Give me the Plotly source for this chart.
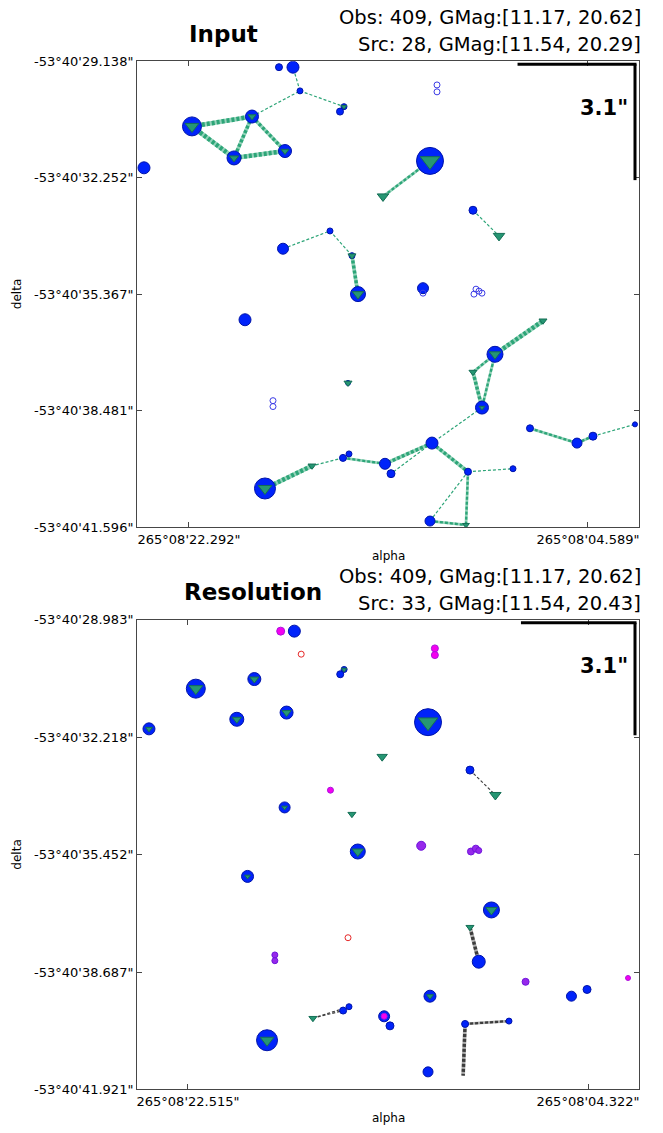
import plotly.graph_objects as go

# ---------------- data: sky positions (RA seconds of 265°08'xx", Dec seconds of -53°40'yy") -------------
node_names = ["S1", "S2", "S3", "S4", "S5", "O1", "O2", "S7", "S8", "S9", "S10", "S11", "S12",
              "T1", "S13", "T2", "S14", "S15", "S16", "S17", "S18", "O3", "O4", "O5", "O6", "O7",
              "S20", "S21", "O8", "O9", "S23", "T3", "T4", "S24", "S25", "S26", "S27", "S28", "S29",
              "T5", "S30", "S31", "S32", "S33", "T6", "S34", "S35", "S36", "S37"]
node_ra = [18.299, 17.678, 17.367, 15.415, 15.592, 11.288, 11.288, 22.159, 19.497, 20.295, 18.032,
           24.289, 11.599, 13.684, 9.691, 8.537, 16.036, 18.121, 15.060, 14.793, 11.909, 11.909,
           9.647, 9.425, 9.292, 9.558, 19.807, 15.237, 18.565, 18.565, 8.715, 6.585, 9.691, 9.292,
           11.510, 13.595, 13.329, 15.459, 15.193, 16.834, 18.920, 9.913, 7.916, 11.599, 10.002,
           7.162, 5.076, 4.367, 2.503]
node_dec = [29.296, 29.296, 29.930, 30.352, 30.484, 29.771, 29.956, 30.880, 30.616, 31.724, 31.539,
            31.988, 31.803, 32.753, 33.123, 33.809, 33.677, 34.152, 34.337, 35.366, 35.208, 35.340,
            35.366, 35.287, 35.340, 35.234, 36.052, 37.741, 38.216, 38.374, 36.976, 36.079, 37.451,
            38.401, 39.351, 39.905, 40.169, 39.747, 39.641, 39.958, 40.565, 40.116, 40.037, 41.436,
            41.541, 38.955, 39.351, 39.166, 38.850]

# observations (blue filled)
obs_names = ["S1", "S2", "S3", "S4", "S5", "S7", "S8", "S9", "S10", "S11", "S12", "S13", "S14",
             "S15", "S16", "S17", "S18", "S20", "S21", "S23", "S24", "S25", "S26", "S27", "S28",
             "S29", "S30", "S31", "S32", "S33", "S34", "S35", "S36", "S37"]
obs_size = [7, 12, 6, 6, 7, 19, 13, 14, 13, 12, 27, 8, 6, 11, 6, 15, 11, 12, 5, 16, 13, 12, 11, 8,
            7, 6, 21, 7, 6, 10, 7, 10, 8, 5]

# ---- panel 1 : Input ----
open1_names = ["O1", "O2", "O3", "O4", "O5", "O6", "O7", "O8", "O9"]
src1_names = ["S7", "S8", "S9", "S10", "S12", "S17", "S23", "S30", "T1", "T2", "T3", "T4", "T5",
              "T6", "S16", "S21", "S4", "S24"]
src1_size = [12, 7, 8, 7, 17, 10, 10, 12, 10, 10, 7, 7, 7, 6, 7, 7, 5, 5]
links1_from = ["S7", "S7", "S8", "S9", "S8", "S8", "S3", "S3", "S12", "S13", "S15", "S14", "S16",
               "S23", "S23", "T4", "S23", "S24", "S25", "S25", "S26", "S28", "T5", "S25", "S31",
               "S33", "S31", "S33", "S34", "S35", "S36"]
links1_to = ["S8", "S9", "S9", "S10", "S10", "S3", "S2", "S4", "T1", "T2", "S14", "S16", "S17",
             "T3", "T4", "S24", "S24", "S25", "S26", "S27", "S28", "T5", "S30", "S31", "S32",
             "S31", "T6", "T6", "S35", "S36", "S37"]
links1_count = [4, 4, 3, 4, 3, 1, 1, 1, 2, 1, 1, 1, 3, 4, 2, 3, 2, 1, 3, 1, 2, 1, 4, 3, 1, 1, 2,
                2, 2, 2, 1]

# ---- panel 2 : Resolution ----
blue2_names = ["S2", "S4", "S5", "S7", "S8", "S9", "S10", "S11", "S12", "S13", "S15", "S17", "S20",
               "S23", "S24", "S25", "S26", "S27", "S28", "S29", "S30", "S31", "S32", "S33", "S35",
               "S36"]
mag2_names = ["S1", "O1", "O2", "S14", "S26", "S37"]
mag2_size = [8, 7, 7, 6, 6, 5]
pur2_names = ["S18", "O4", "O5", "O6", "O8", "O9", "S34"]
pur2_size = [9, 7, 7, 6, 6, 6, 7]
red2_names = ["S3", "S21"]
src2_names = ["S7", "S8", "S9", "S10", "S11", "S12", "S17", "S23", "S30", "S25", "S15", "S20",
              "T1", "T2", "T4", "T5", "S16", "S4"]
src2_size = [12, 8, 8, 8, 6, 17, 10, 10, 12, 6, 5, 5, 9, 10, 7, 7, 7, 5]
links2_from = ["S13", "T4", "T5", "T5", "S31", "S31"]
links2_to = ["T2", "S24", "S28", "S29", "S32", "T6"]
links2_count = [1, 3, 1, 1, 2, 3]

x_ticks1 = [22.292, 4.589]
x_text1 = ["265°08'22.292\"", "265°08'04.589\""]
y_ticks1 = [29.138, 32.252, 35.367, 38.481, 41.596]
y_text1 = ["-53°40'29.138\"", "-53°40'32.252\"", "-53°40'35.367\"", "-53°40'38.481\"",
           "-53°40'41.596\""]
x_ticks2 = [22.515, 4.322]
x_text2 = ["265°08'22.515\"", "265°08'04.322\""]
y_ticks2 = [28.983, 32.218, 35.452, 38.687, 41.921]
y_text2 = ["-53°40'28.983\"", "-53°40'32.218\"", "-53°40'35.452\"", "-53°40'38.687\"",
           "-53°40'41.921\""]
scale_arcsec = 3.1
info1 = ["Obs: 409, GMag:[11.17, 20.62]", "Src: 28, GMag:[11.54, 20.29]"]
info2 = ["Obs: 409, GMag:[11.17, 20.62]", "Src: 33, GMag:[11.54, 20.43]"]

# ---------------- drawing -------------
pos = {n: (r, d) for n, r, d in zip(node_names, node_ra, node_dec)}
size_of = dict(zip(obs_names, obs_size))

W, H = 663, 1133
FONT = "DejaVu Sans"
BLUE = "rgb(0,35,250)"
BLUE_EDGE = "rgb(0,20,170)"
TRI = "rgb(38,150,115)"
TRI_EDGE = "rgb(20,110,85)"

fig = go.Figure()


def add_links(frm, to, cnt, xa, ya, color, solid_color):
    groups = {}
    for a, b, n in zip(frm, to, cnt):
        groups.setdefault(n, []).append((a, b))
    for n, pairs in sorted(groups.items()):
        xs, ys = [], []
        for a, b in pairs:
            xs += [pos[a][0], pos[b][0], None]
            ys += [pos[a][1], pos[b][1], None]
        if n >= 2:
            fig.add_trace(go.Scatter(x=xs, y=ys, mode="lines", xaxis=xa, yaxis=ya,
                                     line=dict(color=solid_color, width=1.0 + 0.9 * n),
                                     hoverinfo="skip", showlegend=False))
        fig.add_trace(go.Scatter(x=xs, y=ys, mode="lines", xaxis=xa, yaxis=ya,
                                 line=dict(color=color, width=1.2 + 1.1 * (n - 1),
                                           dash="3px,2px"),
                                 hoverinfo="skip", showlegend=False))


def add_points(names, sizes, xa, ya, color, edge, symbol="circle", lw=1):
    fig.add_trace(go.Scatter(
        x=[pos[n][0] for n in names], y=[pos[n][1] for n in names], mode="markers",
        xaxis=xa, yaxis=ya,
        marker=dict(size=sizes, color=color, symbol=symbol, opacity=1,
                    line=dict(color=edge, width=lw)),
        hoverinfo="skip", showlegend=False))


# panel 1
add_links(links1_from, links1_to, links1_count, "x", "y", "rgb(45,165,120)", "rgba(60,175,130,0.55)")
add_points(obs_names, obs_size, "x", "y", BLUE, BLUE_EDGE)
add_points(open1_names, [6] * len(open1_names), "x", "y", "rgb(60,60,230)", "rgb(60,60,230)",
           symbol="circle-open", lw=1)
add_points(src1_names, src1_size, "x", "y", TRI, TRI_EDGE, symbol="triangle-down")

# panel 2
add_links(links2_from, links2_to, links2_count, "x2", "y2", "rgb(60,60,60)", "rgba(90,90,90,0.5)")
add_points(blue2_names, [size_of[n] for n in blue2_names], "x2", "y2", BLUE, BLUE_EDGE)
add_points(pur2_names, pur2_size, "x2", "y2", "rgb(150,40,235)", "rgb(110,20,220)")
add_points(mag2_names, mag2_size, "x2", "y2", "rgb(245,0,240)", "rgb(170,20,220)")
add_points(red2_names, [6, 6], "x2", "y2", "rgb(230,40,40)", "rgb(230,40,40)",
           symbol="circle-open", lw=1)
add_points(src2_names, src2_size, "x2", "y2", TRI, TRI_EDGE, symbol="triangle-down")

# axes
px_l, px_r = 137, 639
p1_top, p1_bot = 55, 527
p2_top, p2_bot = 621, 1097
xdom = [px_l / W, px_r / W]

axis_common = dict(showgrid=False, zeroline=False, showline=True, linecolor="rgb(70,70,70)",
                   linewidth=1, mirror="ticks", ticks="inside", ticklen=5,
                   tickcolor="rgb(70,70,70)",
                   tickfont=dict(family=FONT, size=13, color="black"))

fig.update_layout(
    width=W, height=H, margin=dict(l=0, r=0, t=0, b=0),
    paper_bgcolor="white", plot_bgcolor="white",
    xaxis=dict(domain=xdom, range=[24.599, 2.325], anchor="y", tickvals=x_ticks1,
               ticktext=x_text1, **axis_common),
    yaxis=dict(domain=[(H - p1_bot) / H, (H - p1_top) / H], range=[41.596, 29.138], anchor="x",
               tickvals=y_ticks1, ticktext=y_text1, **axis_common),
    xaxis2=dict(domain=xdom, range=[24.834, 2.004], anchor="y2", tickvals=x_ticks2,
                ticktext=x_text2, **axis_common),
    yaxis2=dict(domain=[(H - p2_bot) / H, (H - p2_top) / H], range=[41.921, 28.983],
                anchor="x2", tickvals=y_ticks2, ticktext=y_text2, **axis_common),
)

annotations = []
shapes = []
panels = [("x", "y", p1_top, p1_bot, y_ticks1, "Input", info1),
          ("x2", "y2", p2_top, p2_bot, y_ticks2, "Resolution", info2)]
for xa, ya, top, bot, yt, title, info in panels:
    ph = bot - top
    pw = px_r - px_l
    vfrac = scale_arcsec / (yt[-1] - yt[0])
    hfrac = vfrac * ph / pw
    ytop = 1 - 3 / ph
    xr = 1 - 4 / pw
    shapes.append(dict(type="line", xref=f"{xa} domain", yref=f"{ya} domain",
                       x0=xr - hfrac, x1=xr + 1.5 / pw, y0=ytop, y1=ytop,
                       line=dict(color="black", width=3)))
    shapes.append(dict(type="line", xref=f"{xa} domain", yref=f"{ya} domain",
                       x0=xr, x1=xr, y0=ytop, y1=ytop - vfrac,
                       line=dict(color="black", width=3)))
    annotations.append(dict(text="<b>3.1\"</b>", xref=f"{xa} domain", yref=f"{ya} domain",
                            x=(604 - px_l) / pw, y=1 - 47 / ph, showarrow=False,
                            font=dict(family=FONT, size=21, color="black"),
                            xanchor="center", yanchor="middle"))
    # titles
    annotations.append(dict(text=f"<b>{title}</b>", xref="paper", yref="paper",
                            x=(223 if title == "Input" else 253) / W, y=1 - (top - 28) / H,
                            showarrow=False, font=dict(family=FONT, size=23, color="black"),
                            xanchor="center", yanchor="middle"))
    annotations.append(dict(text=info[0], xref="paper", yref="paper", x=643 / W,
                            y=1 - (top - 44) / H, showarrow=False,
                            font=dict(family=FONT, size=19.5, color="black"),
                            xanchor="right", yanchor="middle"))
    annotations.append(dict(text=info[1], xref="paper", yref="paper", x=643 / W,
                            y=1 - (top - 17) / H, showarrow=False,
                            font=dict(family=FONT, size=19.5, color="black"),
                            xanchor="right", yanchor="middle"))
    # axis titles
    annotations.append(dict(text="alpha", xref="paper", yref="paper", x=388 / W,
                            y=1 - (bot + 29) / H, showarrow=False,
                            font=dict(family=FONT, size=12, color="black"),
                            xanchor="center", yanchor="middle"))
    annotations.append(dict(text="delta", xref="paper", yref="paper", x=17 / W,
                            y=1 - ((top + bot) / 2) / H, showarrow=False, textangle=-90,
                            font=dict(family=FONT, size=12, color="black"),
                            xanchor="center", yanchor="middle"))

fig.update_layout(annotations=annotations, shapes=shapes)
fig.write_html("out.html")
